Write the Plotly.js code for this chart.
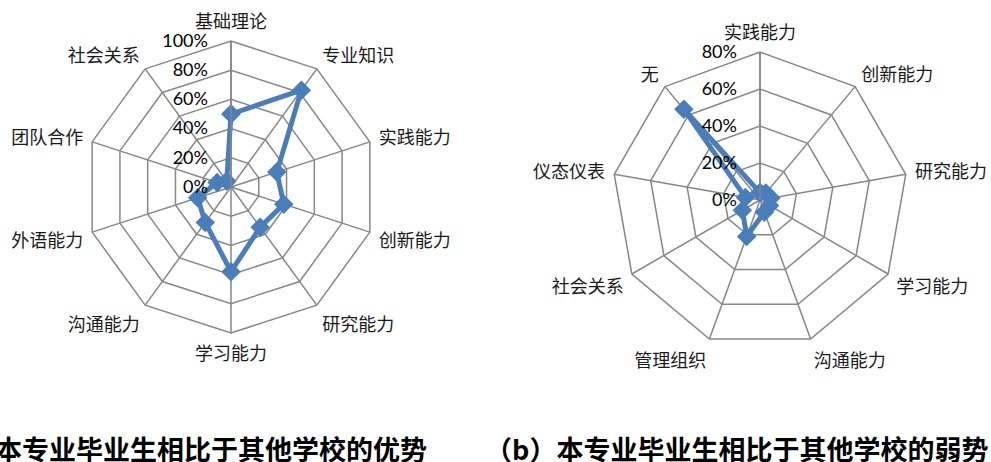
<!DOCTYPE html>
<html>
<head>
<meta charset="utf-8">
<script src="https://cdn.plot.ly/plotly-3.0.1.min.js"></script>
<style>html,body{margin:0;padding:0;background:#fff;}#chart{width:991px;height:462px;}</style>
</head>
<body>
<div id="chart"></div>
<script>
// Data
var leftCategories = ['基础理论','专业知识','实践能力','创新能力','研究能力','学习能力','沟通能力','外语能力','团队合作','社会关系'];
var leftValues = [0.50, 0.82, 0.33, 0.38, 0.34, 0.58, 0.30, 0.24, 0.10, 0.05];
var rightCategories = ['实践能力','创新能力','研究能力','学习能力','沟通能力','管理组织','社会关系','仪态仪表','无'];
var rightValues = [0.04, 0.05, 0.06, 0.06, 0.07, 0.21, 0.11, 0.08, 0.64];
var leftTicks = [0, 0.2, 0.4, 0.6, 0.8, 1.0];
var rightTicks = [0, 0.2, 0.4, 0.6, 0.8];
var captionA = '（a）本专业毕业生相比于其他学校的优势';
var captionB = '（b）本专业毕业生相比于其他学校的弱势';

function closed(a){ return a.concat([a[0]]); }

var lineColor = '#4a7ebb';
var gridColor = '#878787';
var cjk = '"Noto Sans CJK SC", sans-serif';
var num = 'Lato, "Liberation Sans", sans-serif';

var traces = [
  {type:'scatterpolar', subplot:'polar', r: closed(leftValues), theta: closed(leftCategories),
   mode:'lines+markers', line:{color:lineColor, width:5}, marker:{symbol:'diamond', size:15, color:lineColor},
   cliponaxis:false, hoverinfo:'skip'},
  {type:'scatterpolar', subplot:'polar2', r: closed(rightValues), theta: closed(rightCategories),
   mode:'lines+markers', line:{color:lineColor, width:5}, marker:{symbol:'diamond', size:15, color:lineColor},
   cliponaxis:false, hoverinfo:'skip'}
];

function polarCfg(dx, dy, ticks, maxR, cats){
  return {
    domain:{x:dx, y:dy},
    gridshape:'linear',
    bgcolor:'#ffffff',
    radialaxis:{range:[0,maxR], tickvals:ticks, tickformat:'.0%', angle:90, tickangle:90,
      side:'counterclockwise', showline:true, linecolor:gridColor, linewidth:1.5,
      gridcolor:gridColor, gridwidth:1.5, ticks:'outside', ticklen:16, tickcolor:'rgba(0,0,0,0)',
      tickfont:{family:num, size:18, color:'#000'}},
    angularaxis:{type:'category', categoryarray:cats, direction:'clockwise', rotation:90,
      showline:true, linecolor:gridColor, linewidth:1.5, gridcolor:gridColor, gridwidth:1.5,
      ticks:'outside', ticklen:5, tickcolor:'rgba(0,0,0,0)',
      tickfont:{family:cjk, size:18, color:'#1a1a1a'}}
  };
}

var W = 991, H = 462;
function dom(cx, cy, r){
  return {x:[(cx-r)/W, (cx+r)/W], y:[(H-cy-r)/H, (H-cy+r)/H]};
}
var dl = dom(231, 187, 146);
var dr = dom(760, 200, 148);

var layout = {
  width:W, height:H,
  margin:{l:0, r:0, t:0, b:0},
  paper_bgcolor:'#ffffff',
  showlegend:false,
  polar: polarCfg(dl.x, dl.y, leftTicks, 1.0, leftCategories),
  polar2: polarCfg(dr.x, dr.y, rightTicks, 0.8, rightCategories),
  annotations:[
    {text:'<b>'+captionA+'</b>', xref:'paper', yref:'paper', x:429/W, y:(H-448)/H,
     xanchor:'right', yanchor:'middle', showarrow:false, font:{family:cjk, size:27, color:'#000'}},
    {text:'<b>'+captionB+'</b>', xref:'paper', yref:'paper', x:483/W, y:(H-448)/H,
     xanchor:'left', yanchor:'middle', showarrow:false, font:{family:cjk, size:27, color:'#000'}}
  ]
};

Plotly.newPlot('chart', traces, layout, {displayModeBar:false, staticPlot:true});
</script>
</body>
</html>
